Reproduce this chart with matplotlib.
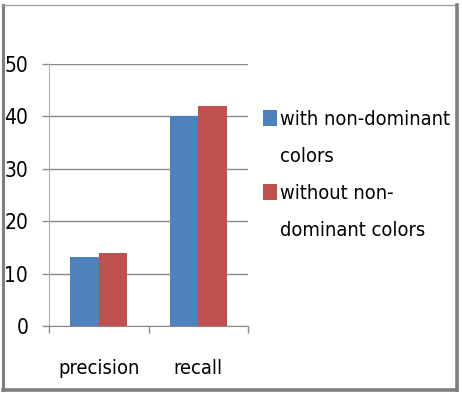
import matplotlib
matplotlib.use("Agg")
import matplotlib.pyplot as plt
from matplotlib.patches import Patch
from matplotlib.lines import Line2D
import numpy as np

categories = ["precision", "recall"]
series_names = ["with non-dominant colors", "without non-dominant colors"]
with_nd = [13.2, 40.0]
without_nd = [14.0, 41.9]
y_ticks = [0, 10, 20, 30, 40, 50]

plt.rcParams['font.family'] = ['DejaVu Sans']
plt.rcParams['font.stretch'] = 'condensed'

BLUE = "#4F81BD"
RED = "#C0504D"
GRID = "#8A8A8A"
FS = 15
FS_TXT = 14.4

fig = plt.figure(figsize=(4.62, 3.93), dpi=100)
W, H = 462, 393
ax = fig.add_axes([49 / W, 1 - 326 / H, (248 - 49) / W, (326 - 64) / H])

x = np.arange(len(categories))
bw = 0.285
ax.bar(x - bw / 2, with_nd, width=bw, color=BLUE, zorder=3)
ax.bar(x + bw / 2, without_nd, width=bw, color=RED, zorder=3)

ax.set_xlim(-0.5, len(categories) - 0.5)
ax.set_ylim(0, 50)
ax.set_yticks(y_ticks)
ax.set_yticklabels([str(t) for t in y_ticks])
ax.yaxis.grid(True, color=GRID, linewidth=1.0, zorder=0)
ax.set_axisbelow(True)

ax.set_xticks(x)
ax.set_xticklabels(categories)
ax.set_xticks(np.arange(len(categories) + 1) - 0.5, minor=True)
ax.tick_params(axis='x', which='major', length=0, pad=24, labelsize=FS_TXT)
ax.tick_params(axis='x', which='minor', length=5, width=1, color=GRID, direction='out')
ax.tick_params(axis='y', which='major', length=5, width=1, color=GRID, direction='out', pad=10, labelsize=FS)

for s in ['top', 'right']:
    ax.spines[s].set_visible(False)
ax.spines['left'].set_color("#B0B0B0")
ax.spines['bottom'].set_color(GRID)

handles = [Patch(facecolor=BLUE, edgecolor='none'),
           Patch(facecolor='none', edgecolor='none'),
           Patch(facecolor=RED, edgecolor='none'),
           Patch(facecolor='none', edgecolor='none')]
labels = ["with non-dominant", "colors", "without non-", "dominant colors"]
leg = fig.legend(handles, labels, loc='upper left',
                 bbox_to_anchor=(263 / W, 1 - 110 / H), bbox_transform=fig.transFigure,
                 frameon=False, fontsize=FS_TXT, borderpad=0, borderaxespad=0,
                 handlelength=0.7, handleheight=0.85, handletextpad=0.17,
                 labelspacing=0.9)

# outer border
fig.add_artist(Line2D([3 / W, 3 / W], [1 - 5 / H, 1 - 390 / H], color="#7F7F7F", lw=2.2, transform=fig.transFigure))
fig.add_artist(Line2D([3 / W, 457 / W], [1 - 5 / H, 1 - 5 / H], color="#A0A0A0", lw=1.0, transform=fig.transFigure))
fig.add_artist(Line2D([457 / W, 457 / W], [1 - 5 / H, 1 - 390 / H], color="#7F7F7F", lw=2.6, transform=fig.transFigure))
fig.add_artist(Line2D([3 / W, 457 / W], [1 - 389.5 / H, 1 - 389.5 / H], color="#7F7F7F", lw=2.6, transform=fig.transFigure))

fig.savefig("out.png", dpi=100)
